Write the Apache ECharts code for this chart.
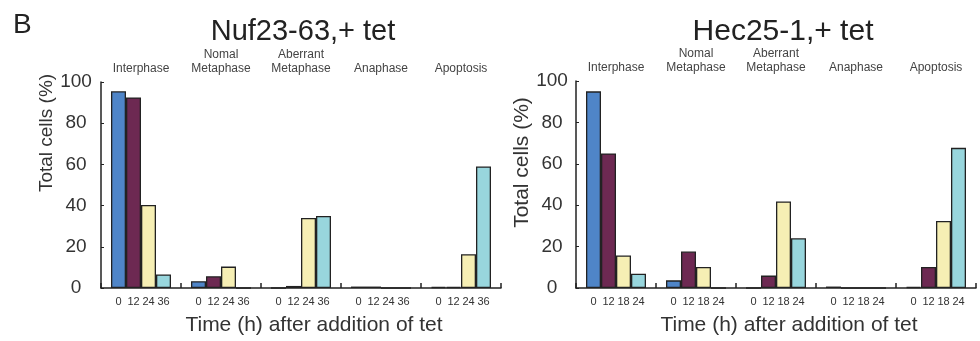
<!DOCTYPE html>
<html><head><meta charset="utf-8">
<script src="https://cdn.jsdelivr.net/npm/echarts@6/dist/echarts.min.js"></script>
<style>html,body{margin:0;padding:0;background:#fff}#c{width:980px;height:341px}</style>
</head><body><div id="c"></div>
<script>
var categories = ['Interphase', 'Nomal\nMetaphase', 'Aberrant\nMetaphase', 'Anaphase', 'Apoptosis'];
var yTicks = [0, 20, 40, 60, 80, 100];

var leftTitle = 'Nuf23-63,+ tet';
var leftTimes = ['0', '12', '24', '36'];
var left_t0  = [95.5, 3.3, 0, 0.7, 0.5];
var left_t12 = [92.5, 5.7, 1.0, 0.7, 0.5];
var left_t24 = [40.3, 10.4, 34, 0, 16.4];
var left_t36 = [6.6, 0, 35, 0, 59];

var rightTitle = 'Hec25-1,+ tet';
var rightTimes = ['0', '12', '18', '24'];
var right_t0  = [95, 3.7, 0, 0.7, 0.5];
var right_t12 = [65, 17.6, 6, 0, 10.2];
var right_t18 = [15.7, 10.2, 41.8, 0, 32.4];
var right_t24 = [6.9, 0, 24, 0, 67.7];

var colors = ['#4f85c8', '#6d2952', '#f6efb4', '#98d6dd'];
var FONT = '"Liberation Sans", Arial, sans-serif';
var ink = '#222';

var chart = echarts.init(document.getElementById('c'));

function buildSeries(gridIdx, times, data) {
  return data.map(function (vals, i) {
    return {
      type: 'bar', xAxisIndex: gridIdx * 2, yAxisIndex: gridIdx,
      data: vals, barGap: '0%', barCategoryGap: '25%',
      itemStyle: { color: colors[i], borderColor: ink, borderWidth: 1.3 },
      label: { show: true, position: 'bottom', distance: 8, formatter: times[i],
               fontSize: 11, color: '#333', fontFamily: FONT },
      silent: true, animation: false
    };
  });
}

var grids = [
  { left: 101, width: 400, top: 82, bottom: 48 },
  { left: 576, width: 400, top: 81, bottom: 44 }
];
var yNameFont = [19, 21];
var yNameShift = [104, 44];
var yLabelMargin = [25, 24];

var xAxes = [], yAxes = [];
[0, 1].forEach(function (g) {
  xAxes.push({
    type: 'category', gridIndex: g, data: categories, position: 'bottom',
    axisLine: { lineStyle: { color: ink, width: 1.5 } },
    axisTick: { show: true, inside: true, length: 5, lineStyle: { color: ink, width: 1.5 } },
    axisLabel: { show: false },
    name: 'Time (h) after addition of tet', nameLocation: 'middle', nameGap: 27,
    nameTextStyle: { fontSize: 21, color: '#333', fontFamily: FONT, padding: [0, 0, 0, 26] }
  });
  xAxes.push({
    type: 'category', gridIndex: g, data: categories, position: 'top',
    axisLine: { show: false }, axisTick: { show: false },
    axisLabel: { fontSize: 12, color: '#444', fontFamily: FONT, margin: 6, lineHeight: 14 }
  });
  yAxes.push({
    type: 'value', gridIndex: g, min: 0, max: 100, interval: 20,
    axisLine: { show: true, lineStyle: { color: ink, width: 1.5 } },
    axisTick: { show: true, inside: true, length: 3, lineStyle: { color: ink } },
    splitLine: { show: false },
    axisLabel: { fontSize: 19, color: '#333', fontFamily: FONT, margin: yLabelMargin[g], align: 'center',
                 formatter: function (v) { return yTicks.indexOf(v) >= 0 ? String(v) : ''; } },
    name: 'Total cells (%)', nameLocation: 'middle', nameGap: 40, nameRotate: 90,
    nameTextStyle: { fontSize: yNameFont[g], color: '#333', fontFamily: FONT, padding: [0, 0, 0, yNameShift[g]] }
  });
});

var series = buildSeries(0, leftTimes, [left_t0, left_t12, left_t24, left_t36])
  .concat(buildSeries(1, rightTimes, [right_t0, right_t12, right_t18, right_t24]));

chart.setOption({
  animation: false,
  backgroundColor: '#fff',
  title: [
    { text: 'B', left: 8, top: 6, textStyle: { fontSize: 28, fontWeight: 'normal', color: '#222', fontFamily: FONT } },
    { text: leftTitle, left: 298, top: 12, textAlign: 'center', textStyle: { fontSize: 29, fontWeight: 'normal', color: '#222', fontFamily: FONT } },
    { text: rightTitle, left: 778, top: 12, textAlign: 'center', textStyle: { fontSize: 30, fontWeight: 'normal', color: '#222', fontFamily: FONT } }
  ],
  grid: grids,
  xAxis: xAxes,
  yAxis: yAxes,
  series: series
});
</script></body></html>
